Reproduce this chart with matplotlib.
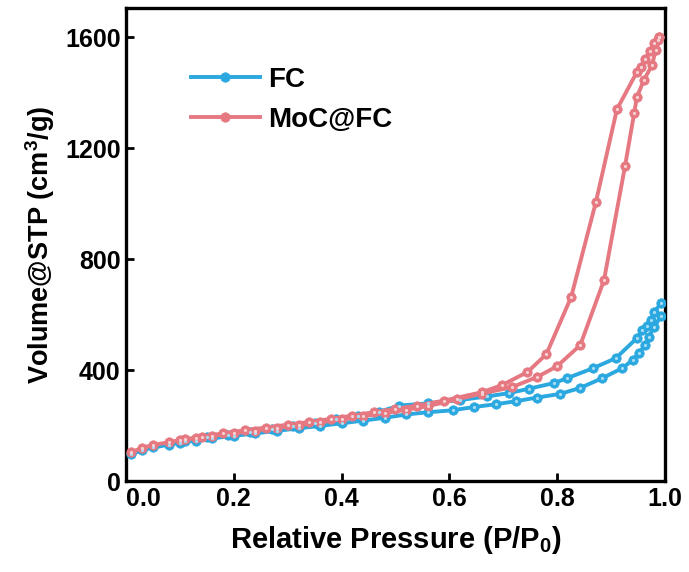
import matplotlib
matplotlib.use("Agg")
import matplotlib.pyplot as plt
from matplotlib.transforms import ScaledTranslation

plt.rcParams['font.family'] = ['Liberation Sans', 'DejaVu Sans']
plt.rcParams['font.weight'] = 'bold'
plt.rcParams['mathtext.fontset'] = 'custom'
plt.rcParams['mathtext.rm'] = 'Liberation Sans:bold'
plt.rcParams['mathtext.bf'] = 'Liberation Sans:bold'
plt.rcParams['mathtext.default'] = 'bf'

# MoC@FC adsorption branch
moc_ads_p = [0.01, 0.03, 0.05, 0.08, 0.10, 0.13, 0.16, 0.20, 0.24, 0.28, 0.32, 0.36, 0.40,
             0.44, 0.48, 0.52, 0.56, 0.615, 0.66, 0.717, 0.763, 0.80, 0.843, 0.887, 0.926,
             0.943, 0.948, 0.961, 0.976, 0.983, 0.99]
moc_ads_v = [104, 120, 130, 140, 148, 155, 163, 172, 182, 192, 202, 212, 222,
             234, 245, 257, 270, 295, 315, 339, 375, 414, 490, 724, 1135,
             1326, 1384, 1445, 1499, 1553, 1600]
# MoC@FC desorption branch
moc_des_p = [0.99, 0.987, 0.98, 0.972, 0.963, 0.955, 0.948, 0.911, 0.872, 0.826, 0.78,
             0.745, 0.698, 0.66, 0.59, 0.54, 0.50, 0.46, 0.42, 0.38, 0.34, 0.30, 0.26,
             0.22, 0.18, 0.14, 0.11]
moc_des_v = [1600, 1590, 1578, 1550, 1520, 1492, 1474, 1340, 1006, 663, 457,
             393, 346, 320, 290, 272, 260, 248, 236, 224, 213, 203, 193,
             183, 172, 160, 150]
# FC adsorption branch
fc_ads_p = [0.01, 0.03, 0.05, 0.08, 0.10, 0.13, 0.16, 0.20, 0.24, 0.28, 0.32, 0.36, 0.40,
            0.44, 0.48, 0.52, 0.56, 0.606, 0.646, 0.687, 0.724, 0.763, 0.805, 0.842, 0.884,
            0.921, 0.94, 0.952, 0.963, 0.97, 0.98, 0.993]
fc_ads_v = [97, 111, 121, 131, 138, 146, 154, 163, 172, 181, 190, 199, 208,
            218, 228, 240, 248, 255, 267, 277, 288, 301, 314, 335, 371,
            407, 436, 461, 490, 519, 555, 595]
# FC desorption branch
fc_des_p = [0.993, 0.98, 0.974, 0.966, 0.958, 0.948, 0.909, 0.867, 0.819, 0.794, 0.748,
            0.711, 0.67, 0.62, 0.56, 0.507, 0.47, 0.43, 0.39, 0.35, 0.31, 0.27, 0.23,
            0.19, 0.15, 0.11]
fc_des_v = [641, 609, 580, 560, 544, 515, 443, 407, 371, 353, 333,
            317, 305, 292, 280, 272, 250, 236, 222, 210, 198, 188, 178,
            167, 157, 145]

x_ticks = [0.0, 0.2, 0.4, 0.6, 0.8, 1.0]
x_ticklabels = ['0.0', '0.2', '0.4', '0.6', '0.8', '1.0']
y_ticks = [0, 400, 800, 1200, 1600]

blue = '#2AA8DF'
blue_hi = '#A9DDF4'
pink = '#E57881'
pink_hi = '#F8D3D6'

fig = plt.figure(figsize=(6.89, 5.72), dpi=100)
ax = fig.add_axes([0.183, 0.159, 0.782, 0.827])

def draw(p, v, c, hi, label=None):
    h, = ax.plot(p, v, '-o', color=c, lw=2.8, ms=6.8, mfc=c, mec=c, mew=0.5,
                 label=label, zorder=3)
    ax.plot(p, v, 'o', color=hi, ms=2.3, mec='none', zorder=4)
    return h

h1 = draw(fc_ads_p, fc_ads_v, blue, blue_hi, 'FC')
draw(fc_des_p, fc_des_v, blue, blue_hi)
h2 = draw(moc_ads_p, moc_ads_v, pink, pink_hi, 'MoC@FC')
draw(moc_des_p, moc_des_v, pink, pink_hi)

ax.set_xlim(0, 0.998)
ax.set_ylim(0, 1705)
ax.set_xticks(x_ticks)
ax.set_xticklabels(x_ticklabels)
ax.set_yticks(y_ticks)
ax.tick_params(direction='in', length=6, width=2, labelsize=18, pad=4)
for s in ax.spines.values():
    s.set_linewidth(2.4)

ax.set_xlabel('Relative Pressure (P/P$_0$)', fontsize=21, fontweight='bold', labelpad=10)
ax.set_ylabel('Volume@STP (cm$^3$/g)', fontsize=19.5, fontweight='bold', labelpad=6)

lab0 = ax.get_xticklabels()[0]
lab0.set_transform(lab0.get_transform() + ScaledTranslation(0.17, 0, fig.dpi_scale_trans))

leg = ax.legend(handles=[h1, h2], loc='upper left', bbox_to_anchor=(0.12, 0.875),
                frameon=False, fontsize=20, handlelength=2.5, handletextpad=0.3,
                labelspacing=0.5, borderpad=0, borderaxespad=0, numpoints=1)

fig.savefig('out.png', dpi=100)
